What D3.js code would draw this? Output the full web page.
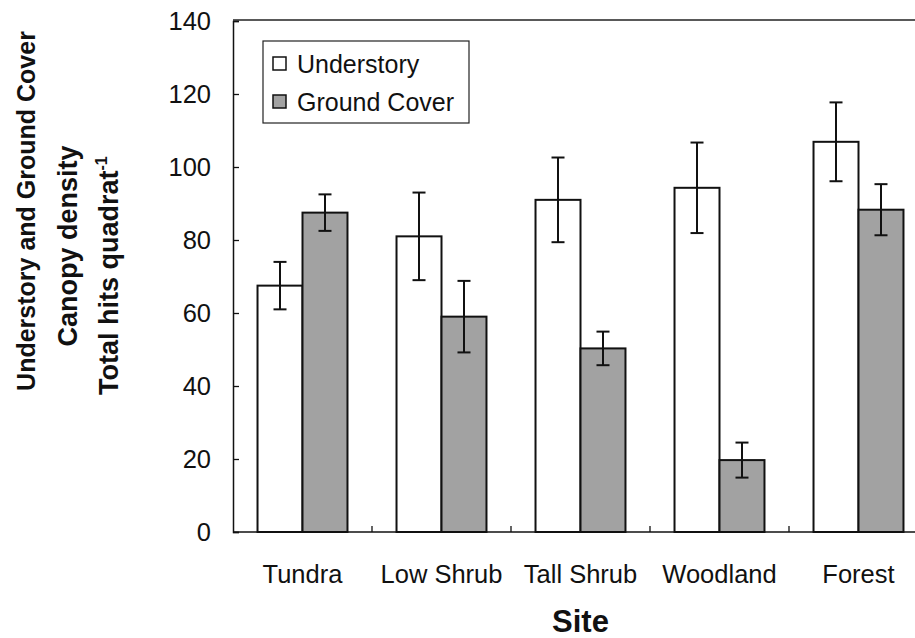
<!DOCTYPE html>
<html lang="en">
<head>
  <meta charset="UTF-8">
  <title>Canopy density by site</title>
  <script src="https://d3js.org/d3.v7.min.js"></script>
  <style>
    body {
      margin: 0;
      padding: 0;
      background: #fff;
      font-family: "Liberation Sans", Arial, sans-serif;
    }
    svg text { fill: #111; }
  </style>
</head>
<body>
  <div id="chart"></div>

  <script>
    // data
    const sites = ["Tundra", "Low Shrub", "Tall Shrub", "Woodland", "Forest"];
    const seriesNames = ["Understory", "Ground Cover"];
    const understory = [67.5, 81, 91, 94.3, 106.9];
    const understoryErr = [6.5, 12, 11.6, 12.4, 10.8];
    const groundCover = [87.5, 59, 50.3, 19.7, 88.3];
    const groundCoverErr = [5, 9.8, 4.6, 4.8, 7];
    const yTicks = [0, 20, 40, 60, 80, 100, 120, 140];

    const width = 915, height = 638;
    const plotLeft = 233, plotTop = 21, plotBottom = 532;
    const step = 139;

    const svg = d3.select("#chart").append("svg")
      .attr("width", width)
      .attr("height", height);

    const x = d3.scaleBand()
      .domain(sites)
      .range([plotLeft, plotLeft + step * sites.length])
      .padding(0);

    const xs = d3.scaleBand()
      .domain(seriesNames)
      .range([0, x.bandwidth()])
      .paddingInner(0)
      .paddingOuter(0.545);

    const y = d3.scaleLinear()
      .domain([0, 140])
      .range([plotBottom, plotTop]);

    const fills = { "Understory": "#ffffff", "Ground Cover": "#a2a2a2" };

    // frame (top line; right side falls outside the picture)
    svg.append("line")
      .attr("x1", plotLeft).attr("x2", width)
      .attr("y1", plotTop - 1).attr("y2", plotTop - 1)
      .attr("stroke", "#222").attr("stroke-width", 1.3);

    // bars
    const rows = sites.map((s, i) => ({
      site: s,
      vals: [
        { key: "Understory", v: understory[i], e: understoryErr[i] },
        { key: "Ground Cover", v: groundCover[i], e: groundCoverErr[i] }
      ]
    }));

    const groups = svg.selectAll(".grp")
      .data(rows)
      .enter().append("g")
      .attr("class", "grp")
      .attr("transform", d => `translate(${x(d.site)},0)`);

    groups.selectAll("rect")
      .data(d => d.vals)
      .enter().append("rect")
      .attr("x", d => xs(d.key))
      .attr("y", d => y(d.v))
      .attr("width", xs.bandwidth())
      .attr("height", d => y(0) - y(d.v))
      .attr("fill", d => fills[d.key])
      .attr("stroke", "#111")
      .attr("stroke-width", 2);

    // error bars
    const eb = groups.selectAll(".err")
      .data(d => d.vals)
      .enter().append("g")
      .attr("class", "err")
      .attr("stroke", "#111")
      .attr("stroke-width", 2);

    eb.append("line")
      .attr("x1", d => xs(d.key) + xs.bandwidth() / 2)
      .attr("x2", d => xs(d.key) + xs.bandwidth() / 2)
      .attr("y1", d => y(d.v + d.e))
      .attr("y2", d => y(d.v - d.e));
    eb.append("line")
      .attr("x1", d => xs(d.key) + xs.bandwidth() / 2 - 6.5)
      .attr("x2", d => xs(d.key) + xs.bandwidth() / 2 + 6.5)
      .attr("y1", d => y(d.v + d.e))
      .attr("y2", d => y(d.v + d.e));
    eb.append("line")
      .attr("x1", d => xs(d.key) + xs.bandwidth() / 2 - 6.5)
      .attr("x2", d => xs(d.key) + xs.bandwidth() / 2 + 6.5)
      .attr("y1", d => y(d.v - d.e))
      .attr("y2", d => y(d.v - d.e));

    // y axis, ticks inward
    const yAxis = svg.append("g")
      .attr("transform", `translate(${plotLeft},0)`)
      .call(d3.axisRight(y).tickValues(yTicks).tickSize(6).tickFormat(""));
    yAxis.select(".domain").attr("stroke", "#111").attr("stroke-width", 1.5);
    yAxis.selectAll(".tick line").attr("stroke", "#111").attr("stroke-width", 1.3);

    svg.selectAll(".ylab")
      .data(yTicks)
      .enter().append("text")
      .attr("class", "ylab")
      .attr("x", plotLeft - 22)
      .attr("y", d => y(d))
      .attr("dy", "0.36em")
      .attr("text-anchor", "end")
      .attr("font-size", 25.5)
      .text(d => d);

    // x axis, boundary ticks pointing up
    const boundaries = sites.slice(1).map(s => x(s));
    svg.append("line")
      .attr("x1", plotLeft).attr("x2", width)
      .attr("y1", plotBottom).attr("y2", plotBottom)
      .attr("stroke", "#111").attr("stroke-width", 1.5);
    svg.selectAll(".xtick")
      .data(boundaries)
      .enter().append("line")
      .attr("x1", d => d).attr("x2", d => d)
      .attr("y1", plotBottom).attr("y2", plotBottom - 6)
      .attr("stroke", "#111").attr("stroke-width", 1.3);

    svg.selectAll(".xlab")
      .data(sites)
      .enter().append("text")
      .attr("x", d => x(d) + x.bandwidth() / 2)
      .attr("y", 583)
      .attr("text-anchor", "middle")
      .attr("font-size", 25.5)
      .text(d => d);

    svg.append("text")
      .attr("x", plotLeft + step * sites.length / 2)
      .attr("y", 632)
      .attr("text-anchor", "middle")
      .attr("font-size", 31)
      .attr("font-weight", "bold")
      .text("Site");

    // y title, three lines
    const yt = svg.append("g")
      .attr("font-weight", "bold");
    yt.append("text")
      .attr("transform", "translate(35,211) rotate(-90)")
      .attr("text-anchor", "middle")
      .attr("font-size", 25)
      .text("Understory and Ground Cover");
    yt.append("text")
      .attr("transform", "translate(77,246) rotate(-90)")
      .attr("text-anchor", "middle")
      .attr("font-size", 27)
      .text("Canopy density");
    const t3 = yt.append("text")
      .attr("transform", "translate(118,395) rotate(-90)")
      .attr("text-anchor", "start")
      .attr("font-size", 27);
    t3.append("tspan").text("Total hits quadrat");
    t3.append("tspan").attr("dy", -11).attr("font-size", 16).text("-1");

    // legend
    const lg = svg.append("g");
    lg.append("rect")
      .attr("x", 263).attr("y", 41)
      .attr("width", 206).attr("height", 82)
      .attr("fill", "#fff").attr("stroke", "#222").attr("stroke-width", 1.2);
    seriesNames.forEach((n, i) => {
      lg.append("rect")
        .attr("x", 273).attr("y", 57 + i * 38)
        .attr("width", 13).attr("height", 13)
        .attr("fill", fills[n]).attr("stroke", "#111").attr("stroke-width", 1.5);
      lg.append("text")
        .attr("x", 297).attr("y", 73 + i * 38)
        .attr("font-size", 25)
        .text(n);
    });
  </script>
</body>
</html>
